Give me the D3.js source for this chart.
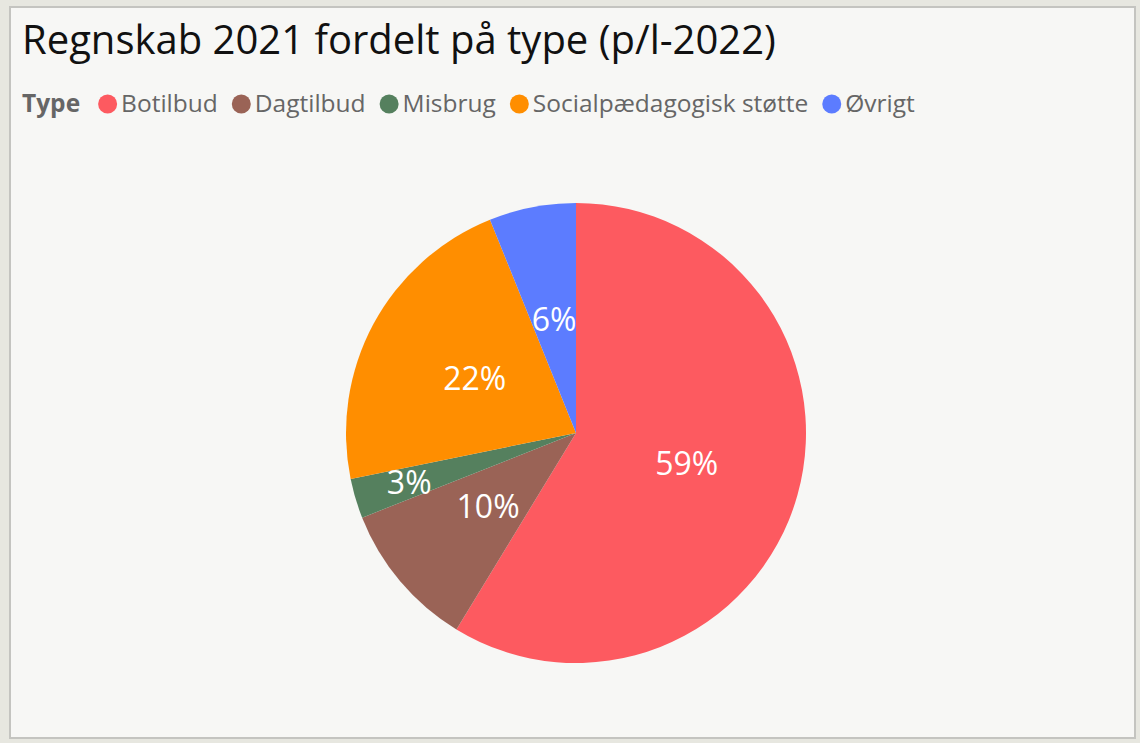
<!DOCTYPE html>
<html>
<head>
<meta charset="utf-8">
<script src="https://cdn.jsdelivr.net/npm/d3@7"></script>
<style>
  html, body { margin: 0; padding: 0; background: #e7e7e0; }
  svg { display: block; }
</style>
</head>
<body>
<div id="chart"></div>
<script>
// data (share of total, %)
var categories = ["Botilbud", "Dagtilbud", "Misbrug", "Socialpædagogisk støtte", "Øvrigt"];
var shares = [58.7, 10.3, 2.8, 22.1, 6.1];
var labels = ["59%", "10%", "3%", "22%", "6%"];
var colors = ["#fd5a60", "#9a6356", "#55805e", "#ff8e00", "#5c7cff"];

var title = "Regnskab 2021 fordelt på type (p/l-2022)";
var legendTitle = "Type";

var width = 1140, height = 743;
var font = "'Open Sans', 'Noto Sans', sans-serif";

var svg = d3.select("#chart").append("svg")
  .attr("width", width)
  .attr("height", height);

// panel
svg.append("rect")
  .attr("x", 10).attr("y", 7)
  .attr("width", 1125).attr("height", 731)
  .attr("fill", "#f7f7f5")
  .attr("stroke", "#c4c4c0")
  .attr("stroke-width", 2);

svg.append("text")
  .attr("x", 22).attr("y", 54)
  .attr("font-family", font)
  .attr("font-size", 40)
  .attr("fill", "#111")
  .text(title);

// legend
var legend = svg.append("g").attr("transform", "translate(22,112)");
var lt = legend.append("text")
  .attr("font-family", font)
  .attr("font-size", 24.5)
  .attr("font-weight", "bold")
  .attr("fill", "#666")
  .text(legendTitle);
var lx = lt.node().getComputedTextLength() + 18;
categories.forEach(function (c, i) {
  legend.append("circle")
    .attr("cx", lx + 9.5).attr("cy", -8).attr("r", 9.5)
    .attr("fill", colors[i]);
  var t = legend.append("text")
    .attr("x", lx + 23)
    .attr("font-family", font)
    .attr("font-size", 24.5)
    .attr("fill", "#666")
    .text(c);
  lx += 23 + t.node().getComputedTextLength() + 14;
});

// pie
var cx = 576, cy = 433, radius = 230;
var pie = d3.pie().sort(null).value(function (d) { return d; });
var arcs = pie(shares);
var arc = d3.arc().innerRadius(0).outerRadius(radius);

var g = svg.append("g").attr("transform", "translate(" + cx + "," + cy + ")");
g.selectAll("path.slice")
  .data(arcs)
  .enter().append("path")
  .attr("class", "slice")
  .attr("d", arc)
  .attr("fill", function (d, i) { return colors[i]; });

// labels: small slices get pushed further out
g.selectAll("text.lbl")
  .data(arcs)
  .enter().append("text")
  .attr("class", "lbl")
  .attr("transform", function (d) {
    var small = (d.endAngle - d.startAngle) < 0.3;
    var r = small ? 174 : 115;
    var a = (d.startAngle + d.endAngle) / 2;
    return "translate(" + (Math.sin(a) * r) + "," + (-Math.cos(a) * r) + ")";
  })
  .attr("text-anchor", "middle")
  .attr("dy", "0.35em")
  .attr("font-family", font)
  .attr("font-size", 32)
  .attr("fill", "#fff")
  .text(function (d, i) { return labels[i]; });
</script>
</body>
</html>
